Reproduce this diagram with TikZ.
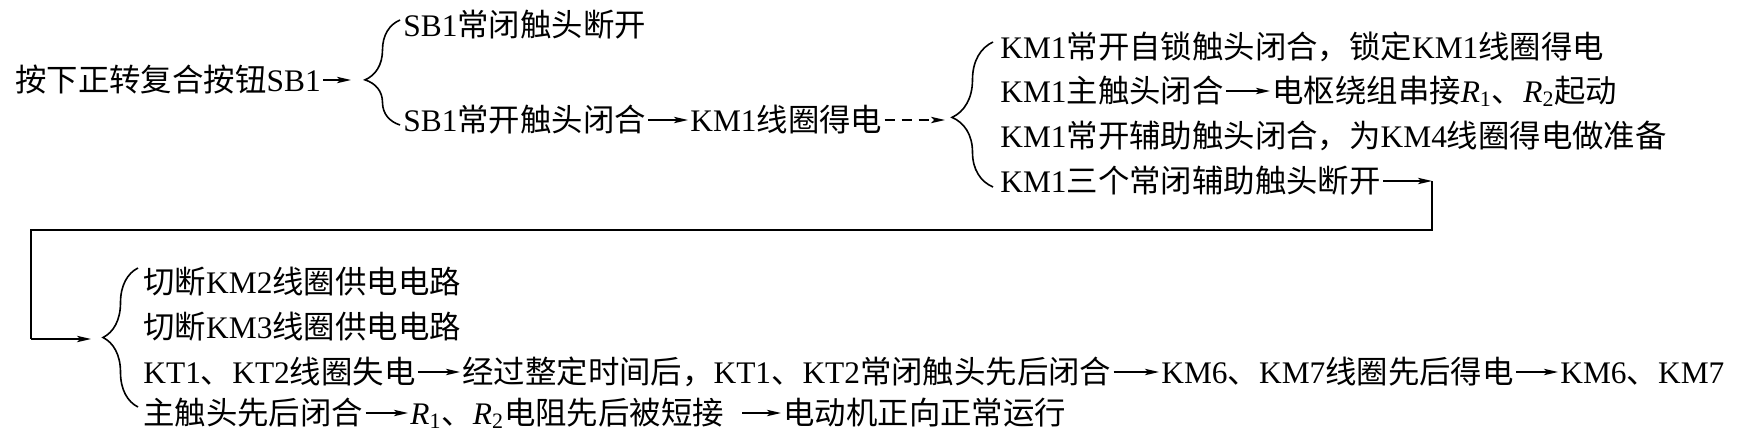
\documentclass[tikz,border=0pt]{standalone}
\usepackage{fontspec}
\setmainfont{Liberation Serif}
\newfontfamily\cjkf{Noto Sans CJK SC}
\newfontfamily\latf{Liberation Serif}
\usetikzlibrary{arrows.meta,decorations.pathreplacing}
\XeTeXinterchartokenstate=1
\newXeTeXintercharclass\CJKcls
\newcount\cjkc
\cjkc="4E00
\loop
  \XeTeXcharclass\cjkc=\CJKcls
  \ifnum\cjkc<"9FFF \advance\cjkc by 1
\repeat
\XeTeXcharclass"3001=\CJKcls
\XeTeXcharclass"FF0C=\CJKcls
\XeTeXinterchartoks 0 \CJKcls={\cjkf}
\XeTeXinterchartoks 4095 \CJKcls={\cjkf}
\XeTeXinterchartoks \CJKcls 0={\latf}
\XeTeXinterchartoks \CJKcls 4095={\latf}
\newcommand\Rsub[1]{\textit{R}\textsubscript{#1}}
\begin{document}
\begin{tikzpicture}[x=0.5pt,y=-0.5pt,
  txt/.style={anchor=west,inner sep=0pt,text height=13.3pt,text depth=2.3pt,
    font=\fontsize{15.7pt}{18pt}\selectfont},
  arr/.style={-{Stealth[length=7pt,width=3.2pt,inset=1.6pt]},line width=0.7pt,
    shorten <=1pt,shorten >=1pt},
  dasharr/.style={arr,dash pattern=on 5pt off 3.5pt},
  brc/.style={decorate,line width=0.8pt},
  wire/.style={line width=0.8pt}]
\useasboundingbox (0,0) rectangle (1753,445);

% row 1
\node[txt] (n0) at (15,80) {按下正转复合按钮SB1};
\coordinate (b1in) at (353,80);
\draw[arr] (n0.east) -- (b1in);
\draw[brc,decoration={brace,amplitude=17.5pt,aspect=0.43}] (400,125) -- (400,20);
\node[txt] (a1) at (403,25) {SB1常闭触头断开};
\node[txt] (a2) at (403,120) {SB1常开触头闭合};
\node[txt] (k1) at (690,120) {KM1线圈得电};
\draw[arr] (a2.east) -- (k1.west);
\coordinate (b2in) at (947,120);
\draw[dasharr] (k1.east) -- (b2in);
\draw[brc,decoration={brace,amplitude=20.5pt,aspect=0.48}] (993,187) -- (993,42);
\node[txt] (l1) at (1000,47) {KM1常开自锁触头闭合，锁定KM1线圈得电};
\node[txt] (l2) at (1000,91) {KM1主触头闭合};
\node[txt] (l2b) at (1272,91) {电枢绕组串接\Rsub{1}、\Rsub{2}起动};
\draw[arr] (l2.east) -- (l2b.west);
\node[txt] (l3) at (1000,136) {KM1常开辅助触头闭合，为KM4线圈得电做准备};
\node[txt] (l4) at (1000,181) {KM1三个常闭辅助触头断开};

% wrap connector
\coordinate (c1) at (1432,181);
\coordinate (c2) at (1432,230);
\coordinate (c3) at (31,230);
\coordinate (c4) at (31,339);
\coordinate (b3in) at (93,339);
\draw[arr,shorten >=0pt] (l4.east) -- (c1);
\draw[wire] (c1) -- (c2) -- (c3) -- (c4);
\draw[arr,shorten <=0pt] (c4) -- (b3in);

% row 2
\draw[brc,decoration={brace,amplitude=17.5pt,aspect=0.5}] (138,407) -- (138,268);
\node[txt] (m1) at (143,282) {切断KM2线圈供电电路};
\node[txt] (m2) at (143,327) {切断KM3线圈供电电路};
\node[txt] (m3) at (143,372) {KT1、KT2线圈失电};
\node[txt] (m3b) at (462,372) {经过整定时间后，KT1、KT2常闭触头先后闭合};
\node[txt] (m3c) at (1161,372) {KM6、KM7线圈先后得电};
\node[txt] (m3d) at (1560,372) {KM6、KM7};
\draw[arr] (m3.east) -- (m3b.west);
\draw[arr] (m3b.east) -- (m3c.west);
\draw[arr] (m3c.east) -- (m3d.west);
\node[txt] (m4) at (143,413) {主触头先后闭合};
\node[txt] (m4b) at (410,413) {\Rsub{1}、\Rsub{2}电阻先后被短接};
\node[txt] (m4c) at (783,413) {电动机正向正常运行};
\draw[arr] (m4.east) -- (m4b.west);
\draw[arr,shorten <=9pt] (m4b.east) -- (m4c.west);
\end{tikzpicture}
\end{document}
